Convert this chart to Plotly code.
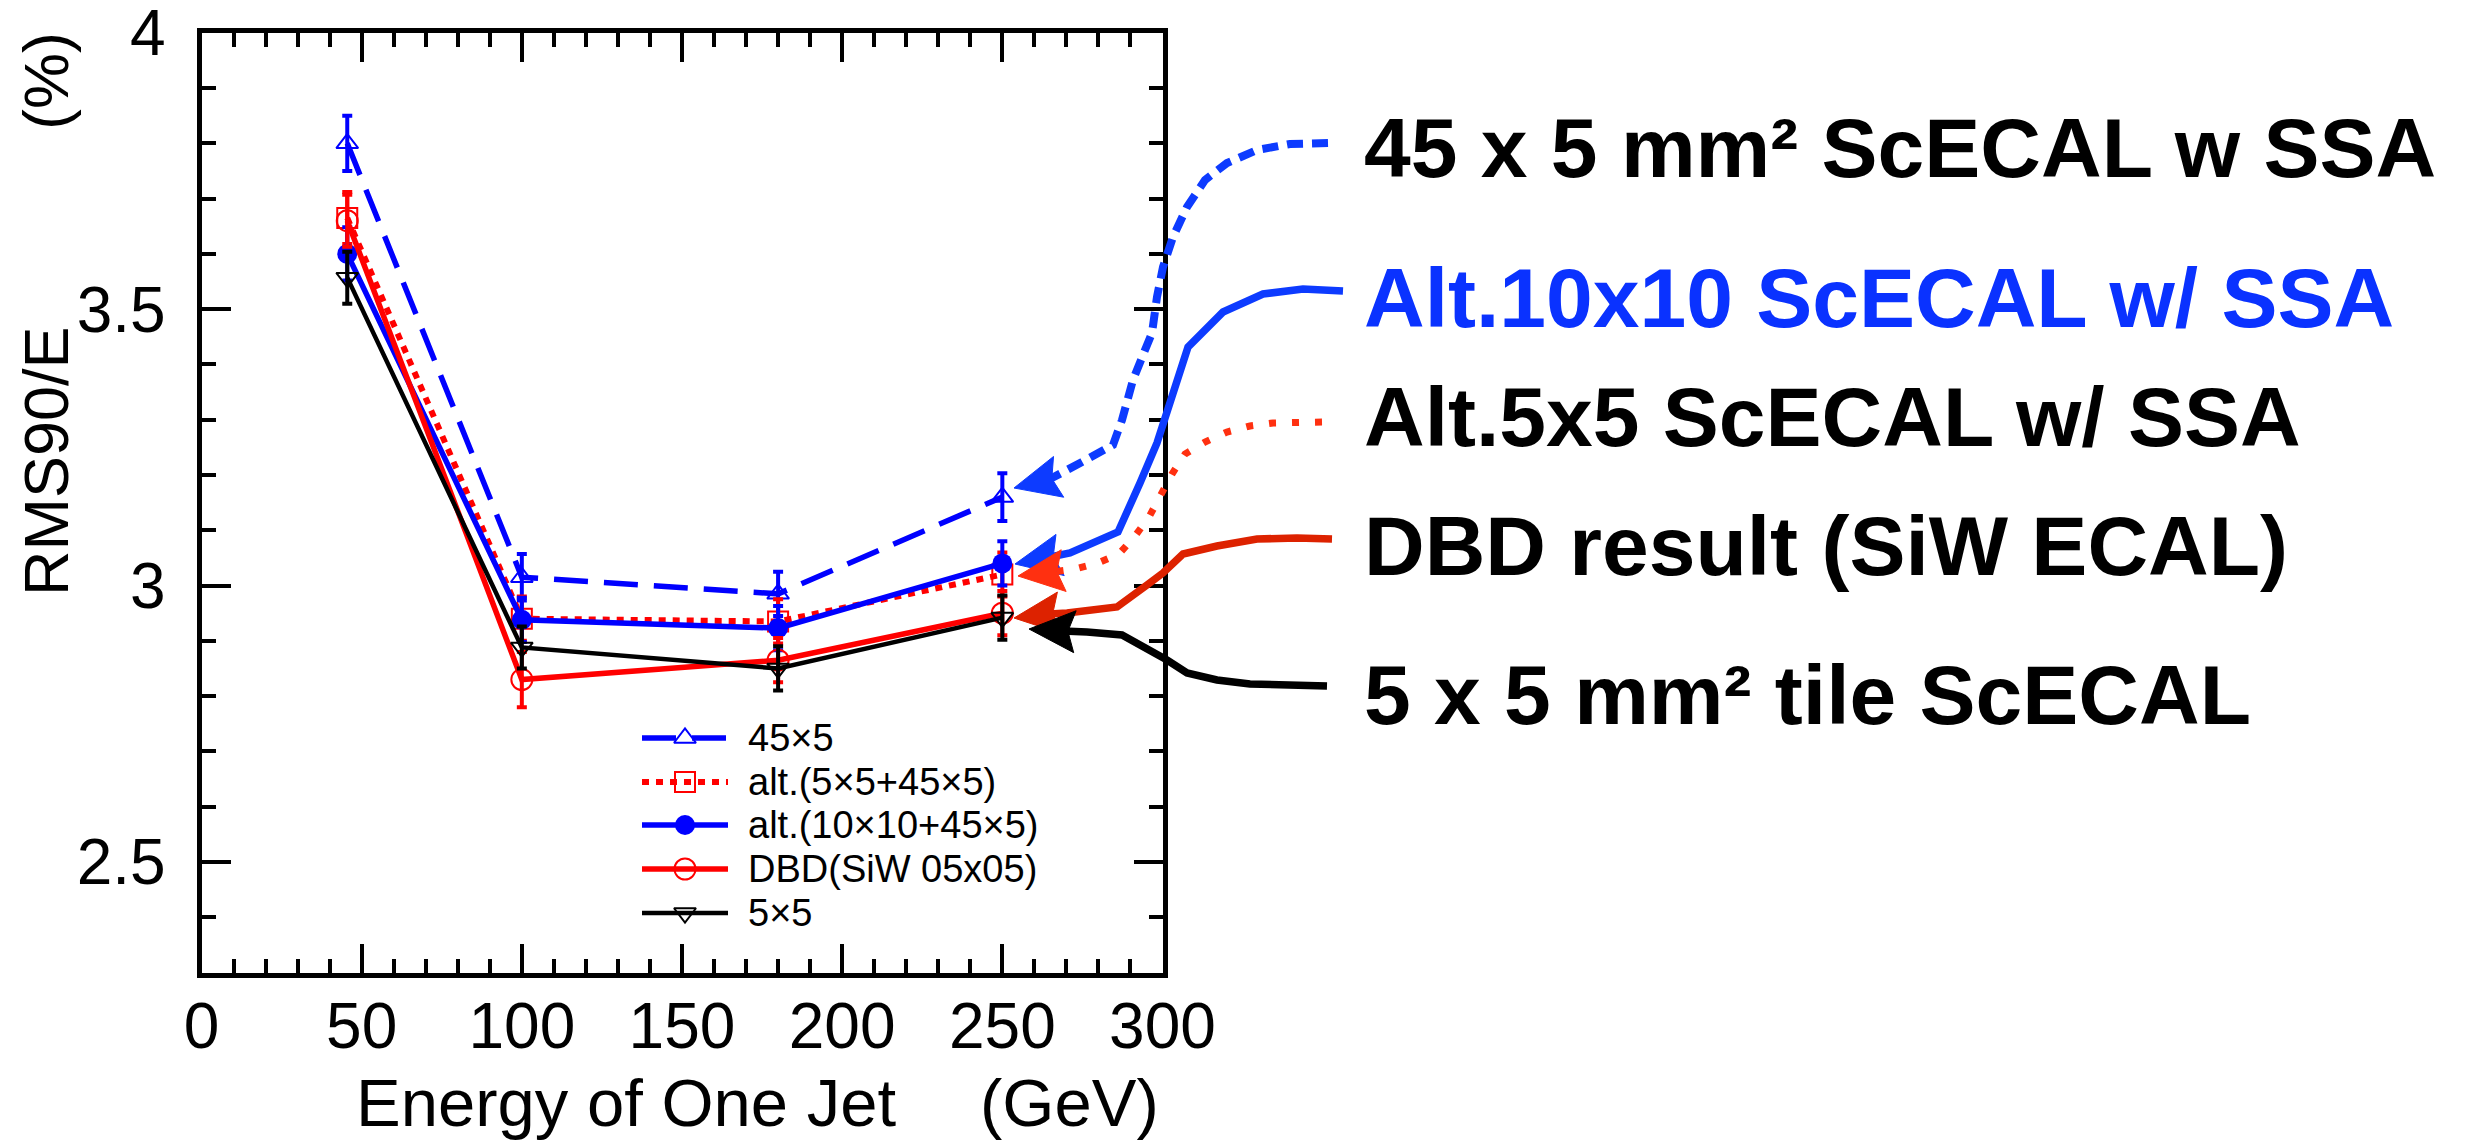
import numpy as np
import plotly.graph_objects as go

W, H = 2481, 1141
FONT = "Liberation Sans, Arial, Helvetica, sans-serif"

# ---------------- data ----------------
energy = [45.5, 100, 180, 250]

rms_45x5 = [3.800, 3.015, 2.985, 3.160]
err_45x5 = [0.050, 0.042, 0.040, 0.043]

rms_alt5 = [3.665, 2.940, 2.935, 3.020]
err_alt5 = [0.047, 0.040, 0.040, 0.040]

rms_alt10 = [3.600, 2.938, 2.923, 3.040]
err_alt10 = [0.048, 0.040, 0.040, 0.040]

rms_dbd = [3.660, 2.830, 2.865, 2.950]
err_dbd = [0.047, 0.050, 0.040, 0.040]

rms_5x5 = [3.557, 2.888, 2.850, 2.942]
err_5x5 = [0.047, 0.038, 0.040, 0.040]

names = ["45×5", "alt.(5×5+45×5)", "alt.(10×10+45×5)", "DBD(SiW 05x05)", "5×5"]

x_ticks = [0, 50, 100, 150, 200, 250, 300]
y_ticks = [2.5, 3.0, 3.5, 4.0]
y_ticktext = ["2.5", "3", "3.5", "4"]

# callout labels (right side)
callout_text = ["45 x 5 mm² ScECAL w SSA", "Alt.10x10 ScECAL w/ SSA",
                "Alt.5x5 ScECAL w/ SSA", "DBD result (SiW ECAL)",
                "5 x 5 mm² tile ScECAL"]

# callout curves, in figure pixels (x to the right, y downward)
c1_x = [1328, 1290, 1257, 1227, 1205, 1187, 1173, 1163, 1157, 1152, 1143, 1133, 1122, 1113, 1082, 1050]
c1_y = [143, 144, 150, 163, 180, 207, 237, 267, 297, 333, 355, 380, 420, 445, 462, 479]
c2_x = [1343, 1303, 1263, 1223, 1188, 1177, 1170, 1157, 1140, 1118, 1070, 1050]
c2_y = [291, 289, 294, 312, 347, 380, 400, 443, 483, 532, 553, 557]
c3_x = [1322, 1298, 1273, 1250, 1227, 1205, 1185, 1172, 1161, 1149, 1135, 1119, 1098, 1075, 1052]
c3_y = [422, 422, 423, 426, 432, 442, 454, 474, 495, 517, 536, 554, 563, 569, 572]
c4_x = [1332, 1297, 1257, 1217, 1183, 1163, 1147, 1117, 1067, 1050]
c4_y = [539, 538, 539, 546, 554, 573, 585, 607, 613, 614]
c5_x = [1327, 1250, 1217, 1187, 1167, 1147, 1122, 1087, 1063]
c5_y = [686, 684, 680, 673, 660, 649, 635, 632, 631]
tips = [(1014, 488), (1015, 564), (1018, 576), (1014, 618), (1029, 629)]

# ---------------- figure ----------------
X0, X1 = 201.5, 1162.5   # plot frame (px)
Y0, Y1 = 32.5, 972.5

fig = go.Figure()

series = [
    (rms_45x5, err_45x5, "#0000FF", dict(dash="34px,16px", width=5.5),
     dict(symbol="triangle-up-open", size=19, line=dict(width=2))),
    (rms_alt5, err_alt5, "#FF0000", dict(dash="7px,7px", width=6),
     dict(symbol="square-open", size=20, line=dict(width=2))),
    (rms_alt10, err_alt10, "#0000FF", dict(width=5.5),
     dict(symbol="circle", size=20)),
    (rms_dbd, err_dbd, "#FF0000", dict(width=5.5),
     dict(symbol="circle-open", size=21, line=dict(width=2))),
    (rms_5x5, err_5x5, "#000000", dict(width=4.5),
     dict(symbol="triangle-down-open", size=19, line=dict(width=2))),
]
for (yv, ev, col, ln, mk), nm in zip(series, names):
    fig.add_trace(go.Scatter(
        x=energy, y=yv, name=nm, mode="lines+markers",
        line=dict(ln, color=col), marker=dict(mk, color=col),
        error_y=dict(type="data", array=ev, color=col, thickness=4, width=5),
        xaxis="x", yaxis="y", showlegend=False,
    ))

# ---- legend drawn on a full-figure pixel axis pair ----
leg_rows = [738, 782, 825, 869, 913]
leg_x0, leg_x1, leg_xm, leg_text_x = 642, 728, 685, 747
for (yv, ev, col, ln, mk), nm, ry in zip(series, names, leg_rows):
    fig.add_trace(go.Scatter(x=[leg_x0, leg_x1], y=[ry, ry], mode="lines",
                             line=dict(ln, color=col), showlegend=False,
                             hoverinfo="skip", xaxis="x2", yaxis="y2"))
    fig.add_trace(go.Scatter(x=[leg_xm], y=[ry], mode="markers",
                             marker=dict(mk, color=col), showlegend=False,
                             hoverinfo="skip", xaxis="x2", yaxis="y2"))
    fig.add_annotation(x=leg_text_x / W, y=1 - ry / H, xref="paper", yref="paper",
                       text=nm, showarrow=False, xanchor="left", yanchor="middle",
                       borderpad=0,
                       font=dict(family=FONT, size=38, color="black"))

# ---- callout curves ----
curves = [
    (c1_x, c1_y, "#0D3BFF", dict(dash="16px,9px", width=8)),
    (c2_x, c2_y, "#0D3BFF", dict(width=7.5)),
    (c3_x, c3_y, "#FF3010", dict(dash="7px,16px", width=7)),
    (c4_x, c4_y, "#DD2200", dict(width=7.5)),
    (c5_x, c5_y, "#000000", dict(width=7.5)),
]
for (cx, cy, col, ln), tip in zip(curves, tips):
    fig.add_trace(go.Scatter(x=cx, y=cy, mode="lines", line=dict(ln, color=col),
                             showlegend=False, hoverinfo="skip",
                             xaxis="x2", yaxis="y2"))
    tx, ty = tip
    bx, by = cx[-1], cy[-1]
    d = np.array([bx - tx, by - ty], float)
    u = d / np.hypot(*d)
    p = np.array([-u[1], u[0]])
    base = np.array([tx, ty]) + u * 46
    notch = np.array([tx, ty]) + u * 39
    c_a = base + p * 21
    c_b = base - p * 21
    fig.add_trace(go.Scatter(x=[tx, c_a[0], notch[0], c_b[0], tx],
                             y=[ty, c_a[1], notch[1], c_b[1], ty],
                             mode="lines", fill="toself", fillcolor=col,
                             line=dict(color=col, width=1),
                             showlegend=False, hoverinfo="skip",
                             xaxis="x2", yaxis="y2"))

axis_common = dict(showline=True, linewidth=5, linecolor="black", mirror="allticks",
                   ticks="inside", tickwidth=4, ticklen=29, tickcolor="black",
                   showgrid=False, zeroline=False, ticklabeloverflow="allow",
                   automargin=False,
                   tickfont=dict(family=FONT, size=64, color="black"))

fig.update_layout(
    width=W, height=H,
    margin=dict(l=0, r=0, t=0, b=0, pad=0, autoexpand=False),
    paper_bgcolor="white", plot_bgcolor="rgba(0,0,0,0)",
    xaxis=dict(axis_common, domain=[X0 / W, X1 / W], range=[0, 300],
               tickvals=x_ticks, ticklabelstandoff=-6, anchor="y",
               minor=dict(dtick=10, ticks="inside", ticklen=14, tickwidth=3.5, tickcolor="black")),
    yaxis=dict(axis_common, domain=[1 - Y1 / H, 1 - Y0 / H], range=[2.3, 4.0005],
               tickvals=y_ticks, ticktext=y_ticktext, ticklabelstandoff=18,
               anchor="x",
               minor=dict(dtick=0.1, ticks="inside", ticklen=14, tickwidth=3.5, tickcolor="black")),
    xaxis2=dict(domain=[0, 1], range=[0, W], visible=False, anchor="y2",
                fixedrange=True, automargin=False),
    yaxis2=dict(domain=[0, 1], range=[H, 0], visible=False, anchor="x2",
                fixedrange=True, automargin=False),
    showlegend=False,
)

def ann(text, px, py, size, color="black", xanchor="left", angle=0, weight="normal"):
    fig.add_annotation(x=px / W, y=1 - py / H, xref="paper", yref="paper",
                       text=text, showarrow=False, xanchor=xanchor, yanchor="middle",
                       textangle=angle, borderpad=0,
                       font=dict(family=FONT, size=size, color=color, weight=weight))

# axis titles
ann("Energy of One Jet", 355, 1102, 67, xanchor="left")
ann("(GeV)", 1160, 1102, 67, xanchor="right")
ann("RMS90/E", 46, 461, 63, xanchor="center", angle=-90)
ann("(%)", 46, 81, 63, xanchor="center", angle=-90)

# right-hand callout labels
label_y = [148, 298, 417, 546, 695]
label_col = ["black", "#0A32FF", "black", "black", "black"]
for txt, yy, cc in zip(callout_text, label_y, label_col):
    ann(txt, 1363, yy, 84, color=cc, weight="bold")

fig.write_html("out.html")
